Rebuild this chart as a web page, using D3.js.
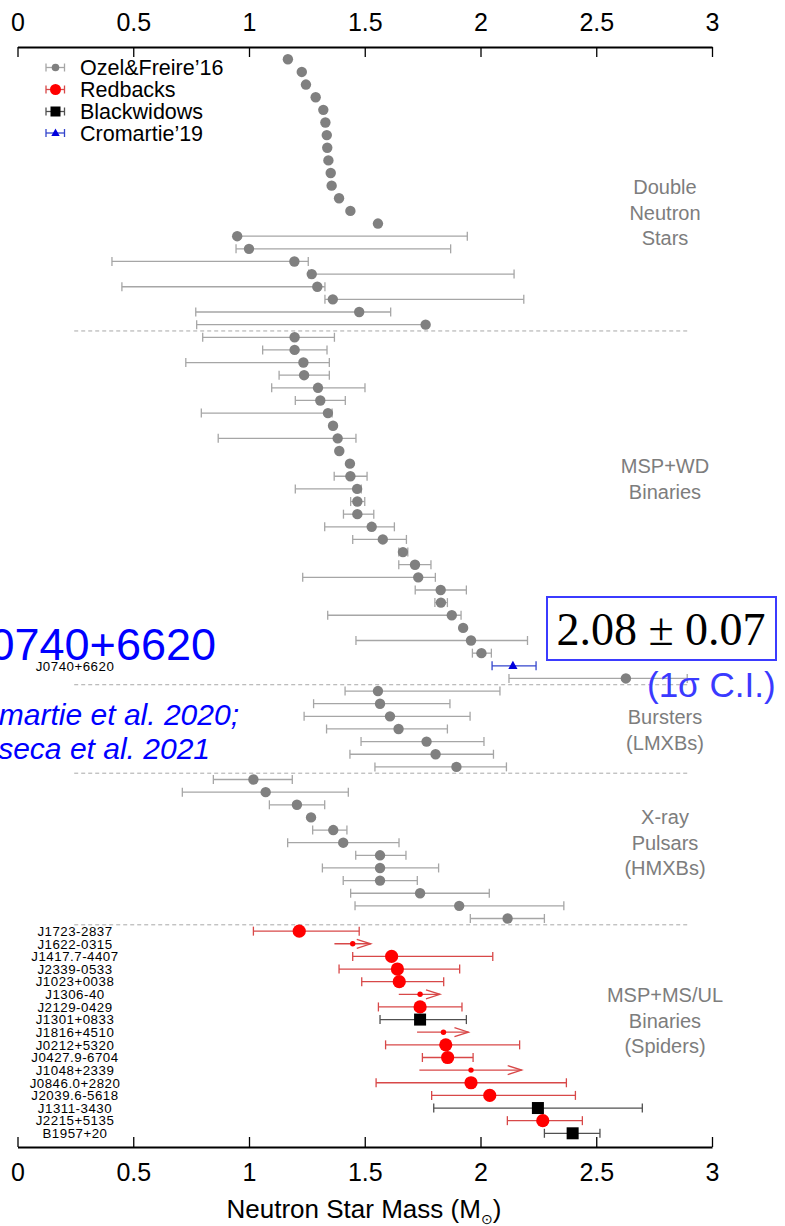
<!DOCTYPE html>
<html>
<head>
<meta charset="utf-8">
<script src="https://cdn.jsdelivr.net/npm/d3@7/dist/d3.min.js"></script>
<style>
  body { margin: 0; background: #fff; }
  svg { display: block; }
  text { font-family: "Liberation Sans", Arial, Helvetica, sans-serif; }
</style>
</head>
<body>
<svg id="chart" width="785" height="1226"></svg>
<script>
// ---- Neutron star masses: [mass, lower, upper] (null bounds = no error bar) ----
const doubleNS = [
  [1.168, null, null], [1.228, null, null], [1.246, null, null], [1.288, null, null],
  [1.321, null, null], [1.330, null, null], [1.336, null, null], [1.338, null, null],
  [1.343, null, null], [1.353, null, null], [1.357, null, null], [1.389, null, null],
  [1.438, null, null], [1.557, null, null],
  [0.949, 0.949, 1.943], [1.000, 0.944, 1.871], [1.196, 0.408, 1.256], [1.271, 1.258, 2.145],
  [1.295, 0.451, 1.328], [1.362, 1.328, 2.187], [1.476, 0.770, 1.612], [1.763, 0.774, 1.763]
];
const mspWD = [
  [1.197, 0.800, 1.369], [1.197, 1.059, 1.337], [1.235, 0.727, 1.347], [1.238, 1.130, 1.347],
  [1.298, 1.098, 1.501], [1.308, 1.200, 1.416], [1.341, 0.794, 1.359], [1.363, null, null],
  [1.383, 0.867, 1.462], [1.390, null, null], [1.436, null, null], [1.438, 1.368, 1.510],
  [1.467, 1.200, 1.485], [1.468, 1.439, 1.500], [1.468, 1.408, 1.539], [1.530, 1.327, 1.628],
  [1.578, 1.448, 1.680], [1.665, 1.647, 1.686], [1.717, 1.647, 1.786], [1.731, 1.232, 1.805],
  [1.828, 1.718, 1.939], [1.829, 1.803, 1.857], [1.876, 1.340, 1.916], [1.925, null, null],
  [1.959, 1.462, 2.203], [2.004, 1.965, 2.047]
];
const cromartie19 = [[2.14, 2.05, 2.24]];
const mspWDHigh = [[2.628, 2.123, 2.893]];
const bursters = [
  [1.557, 1.415, 2.084], [1.566, 1.279, 1.868], [1.609, 1.238, 1.955], [1.646, 1.335, 1.857],
  [1.767, 1.484, 2.015], [1.806, 1.436, 2.056], [1.896, 1.544, 2.112]
];
const xrayPulsars = [
  [1.019, 0.846, 1.187], [1.072, 0.712, 1.429], [1.207, 1.088, 1.327], [1.268, null, null],
  [1.364, 1.275, 1.423], [1.407, 1.167, 1.648], [1.566, 1.461, 1.678], [1.566, 1.317, 1.819],
  [1.566, 1.407, 1.727], [1.739, 1.439, 2.038], [1.908, 1.458, 2.360], [2.117, 1.956, 2.276]
];
// Spiders: name, type (RB = redback, BW = black widow, RBlim = lower limit), mass, lower, upper
const spiderNames = [
  "J1723-2837", "J1622-0315", "J1417.7-4407", "J2339-0533", "J1023+0038", "J1306-40",
  "J2129-0429", "J1301+0833", "J1816+4510", "J0212+5320", "J0427.9-6704", "J1048+2339",
  "J0846.0+2820", "J2039.6-5618", "J1311-3430", "J2215+5135", "B1957+20"
];
const spiderTypes = [
  "RB", "RBlim", "RB", "RB", "RB", "RBlim", "RB", "BW", "RBlim", "RB", "RB", "RBlim",
  "RB", "RB", "BW", "RB", "BW"
];
const spiderMasses = [
  [1.217, 1.019, 1.476], [1.448, 1.369, 1.526], [1.616, 1.448, 2.053], [1.641, 1.389, 1.910],
  [1.649, 1.487, 1.841], [1.739, 1.647, 1.825], [1.739, 1.559, 1.920], [1.739, 1.566, 1.939],
  [1.840, 1.726, 1.948], [1.850, 1.590, 2.169], [1.858, 1.749, 1.968], [1.959, 1.736, 2.178],
  [1.959, 1.549, 2.371], [2.040, 1.789, 2.410], [2.248, 1.798, 2.699], [2.269, 2.116, 2.440],
  [2.398, 2.276, 2.516]
];
const tickValues = [0, 0.5, 1, 1.5, 2, 2.5, 3];
const legendLabels = ["Ozel&Freire\u201916", "Redbacks", "Blackwidows", "Cromartie\u201919"];

// ---- colours ----
const GRAY_DOT = "#808080", GRAY_BAR = "#a6a6a6";
const RED_DOT = "#ff0000", RED_BAR = "#d84848";
const BLACK_DOT = "#000000", BLACK_BAR = "#505050";
const BLUE_DOT = "#0000dd", BLUE_BAR = "#3344cc";
const LABEL_GRAY = "#7d7d7d";

const svg = d3.select("#chart");
const x = d3.scaleLinear().domain([0, 3]).range([17.5, 712]);

// Assemble all rows top-to-bottom
const rows = [];
const groupEnds = [];
function addRows(arr, kind, extra) {
  arr.forEach((d, i) => rows.push(Object.assign({ m: d[0], lo: d[1], hi: d[2], kind }, extra ? extra(i) : {})));
}
addRows(doubleNS, "ozel"); groupEnds.push(rows.length);
addRows(mspWD, "ozel");
addRows(cromartie19, "cromartie", () => ({ name: "J0740+6620" }));
addRows(mspWDHigh, "ozel"); groupEnds.push(rows.length);
addRows(bursters, "ozel"); groupEnds.push(rows.length);
addRows(xrayPulsars, "ozel"); groupEnds.push(rows.length);
addRows(spiderMasses, "spider", i => ({ name: spiderNames[i], type: spiderTypes[i] }));

const y = d3.scaleLinear().domain([0, rows.length - 1]).range([59.3, 1133.3]);

// ---- group separators ----
svg.append("g").selectAll("line").data(groupEnds).join("line")
  .attr("x1", x(0.245)).attr("x2", x(2.9))
  .attr("y1", d => y(d - 0.5)).attr("y2", d => y(d - 0.5))
  .attr("stroke", "#a8a8a8").attr("stroke-width", 1).attr("stroke-dasharray", "4,3");

// ---- axes ----
function styleAxis(g) {
  g.select(".domain").attr("stroke", "#000").attr("stroke-width", 2);
  g.selectAll(".tick line").attr("stroke", "#000").attr("stroke-width", 1.3);
  g.selectAll(".tick text").attr("font-size", 25).attr("fill", "#000")
    .style("font-family", "'Liberation Sans', Arial, sans-serif");
}
svg.append("g").attr("transform", "translate(0,47)")
  .call(d3.axisTop(x).tickValues(tickValues).tickFormat(d => String(d))
    .tickSizeInner(-10).tickSizeOuter(0).tickPadding(16))
  .call(styleAxis);
svg.append("g").attr("transform", "translate(0,1147)")
  .call(d3.axisBottom(x).tickValues(tickValues).tickFormat(d => String(d))
    .tickSizeInner(-10).tickSizeOuter(0).tickPadding(16))
  .call(styleAxis);

const title = svg.append("text").attr("x", 364).attr("y", 1218)
  .attr("text-anchor", "middle").attr("font-size", 26).attr("fill", "#000");
title.append("tspan").text("Neutron Star Mass (M");
title.append("tspan").attr("font-size", 14).attr("dy", 6).text("\u2299");
title.append("tspan").attr("dy", -6).text(")");

// ---- error bars ----
function barColor(r) {
  if (r.kind === "ozel") return GRAY_BAR;
  if (r.kind === "cromartie") return BLUE_BAR;
  return r.type === "BW" ? BLACK_BAR : RED_BAR;
}
const withBars = rows.map((r, i) => Object.assign({ i }, r)).filter(r => r.lo !== null);
const bars = svg.append("g").selectAll("g").data(withBars).join("g")
  .attr("stroke", barColor).attr("stroke-width", 1.3).attr("fill", "none");
bars.append("line")
  .attr("x1", d => x(d.lo)).attr("x2", d => x(d.hi))
  .attr("y1", d => y(d.i)).attr("y2", d => y(d.i));
// caps for two-sided bars
bars.filter(d => d.type !== "RBlim").each(function (d) {
  const g = d3.select(this);
  [d.lo, d.hi].forEach(v => g.append("line")
    .attr("x1", x(v)).attr("x2", x(v)).attr("y1", y(d.i) - 4.5).attr("y2", y(d.i) + 4.5));
});
// open arrowheads for lower limits
bars.filter(d => d.type === "RBlim").append("path")
  .attr("d", d => {
    const xe = x(d.hi), yy = y(d.i);
    return `M${xe - 14},${yy - 4.5}L${xe},${yy}L${xe - 14},${yy + 4.5}`;
  });

// ---- markers ----
const pts = rows.map((r, i) => Object.assign({ i }, r));
const mk = svg.append("g");
mk.selectAll("circle.ozel").data(pts.filter(d => d.kind === "ozel")).join("circle")
  .attr("class", "ozel").attr("cx", d => x(d.m)).attr("cy", d => y(d.i)).attr("r", 5.2).attr("fill", GRAY_DOT);
mk.selectAll("circle.rb").data(pts.filter(d => d.type === "RB")).join("circle")
  .attr("class", "rb").attr("cx", d => x(d.m)).attr("cy", d => y(d.i)).attr("r", 6.6).attr("fill", RED_DOT);
mk.selectAll("circle.rblim").data(pts.filter(d => d.type === "RBlim")).join("circle")
  .attr("class", "rblim").attr("cx", d => x(d.m)).attr("cy", d => y(d.i)).attr("r", 2.7).attr("fill", RED_DOT);
mk.selectAll("rect.bw").data(pts.filter(d => d.type === "BW")).join("rect")
  .attr("class", "bw").attr("x", d => x(d.m) - 6).attr("y", d => y(d.i) - 6)
  .attr("width", 12).attr("height", 12).attr("fill", BLACK_DOT);
mk.selectAll("path.cr").data(pts.filter(d => d.kind === "cromartie")).join("path")
  .attr("class", "cr")
  .attr("d", d => `M${x(d.m)},${y(d.i) - 5}L${x(d.m) + 4.6},${y(d.i) + 3.2}L${x(d.m) - 4.6},${y(d.i) + 3.2}Z`)
  .attr("fill", BLUE_DOT);

// ---- source names on the left (tightly stacked) ----
svg.append("g").selectAll("text").data(pts.filter(d => d.name)).join("text")
  .attr("x", 75).attr("y", d => y(d.i)).attr("dy", "0.36em")
  .attr("text-anchor", "middle").attr("font-size", 13.3)
  .attr("letter-spacing", 0.5).attr("fill", "#000")
  .text(d => d.name);

// ---- group labels ----
const groupLabels = [
  { lines: ["Double", "Neutron", "Stars"], y: 187 },
  { lines: ["MSP+WD", "Binaries"], y: 466 },
  { lines: ["Bursters", "(LMXBs)"], y: 717 },
  { lines: ["X-ray", "Pulsars", "(HMXBs)"], y: 817 },
  { lines: ["MSP+MS/UL", "Binaries", "(Spiders)"], y: 995 }
];
groupLabels.forEach(gl => {
  gl.lines.forEach((t, k) => svg.append("text")
    .attr("x", 665).attr("y", gl.y + k * 25.5).attr("dy", "0.35em")
    .attr("text-anchor", "middle").attr("font-size", 20).attr("fill", LABEL_GRAY).text(t));
});

// ---- legend ----
const leg = svg.append("g");
const legY = [67.5, 89.5, 111.5, 133];
const legBar = [GRAY_BAR, RED_BAR, BLACK_BAR, BLUE_BAR];
legendLabels.forEach((lab, k) => {
  const yy = legY[k];
  const g = leg.append("g").attr("stroke", legBar[k]).attr("stroke-width", 1.3);
  g.append("line").attr("x1", 46).attr("x2", 64.5).attr("y1", yy).attr("y2", yy);
  g.append("line").attr("x1", 46).attr("x2", 46).attr("y1", yy - 4).attr("y2", yy + 4);
  g.append("line").attr("x1", 64.5).attr("x2", 64.5).attr("y1", yy - 4).attr("y2", yy + 4);
  if (k === 0) leg.append("circle").attr("cx", 55.5).attr("cy", yy).attr("r", 3.8).attr("fill", GRAY_DOT);
  if (k === 1) leg.append("circle").attr("cx", 55.5).attr("cy", yy).attr("r", 5.5).attr("fill", RED_DOT);
  if (k === 2) leg.append("rect").attr("x", 50.5).attr("y", yy - 5).attr("width", 10).attr("height", 10).attr("fill", BLACK_DOT);
  if (k === 3) leg.append("path").attr("d", `M55.5,${yy - 4.5}L59.7,${yy + 3}L51.3,${yy + 3}Z`).attr("fill", BLUE_DOT);
  leg.append("text").attr("x", 80).attr("y", yy).attr("dy", "0.36em")
    .attr("font-size", 21.5).attr("fill", "#000").text(lab);
});

// ---- J0740+6620 annotations ----
svg.append("text").attr("x", 216).attr("y", 660).attr("text-anchor", "end")
  .attr("font-size", 45).attr("fill", "#0000ff").text("J0740+6620");
svg.append("text").attr("x", 239).attr("y", 725).attr("text-anchor", "end")
  .attr("font-size", 30).attr("font-style", "italic").attr("fill", "#0000ff").text("Cromartie et al. 2020;");
svg.append("text").attr("x", 210).attr("y", 759).attr("text-anchor", "end")
  .attr("font-size", 30).attr("font-style", "italic").attr("fill", "#0000ff").text("Fonseca et al. 2021");

svg.append("rect").attr("x", 547).attr("y", 597).attr("width", 229).attr("height", 63)
  .attr("fill", "#fff").attr("stroke", "#3b3bff").attr("stroke-width", 2);
svg.append("text").attr("x", 661).attr("y", 645).attr("text-anchor", "middle")
  .style("font-family", "'Liberation Serif', 'Times New Roman', serif")
  .attr("font-size", 46).attr("fill", "#000").text("2.08 \u00b1 0.07");
svg.append("text").attr("x", 647).attr("y", 697)
  .attr("font-size", 35).attr("fill", "#3a3aff").text("(1\u03c3 C.I.)");
</script>
</body>
</html>
